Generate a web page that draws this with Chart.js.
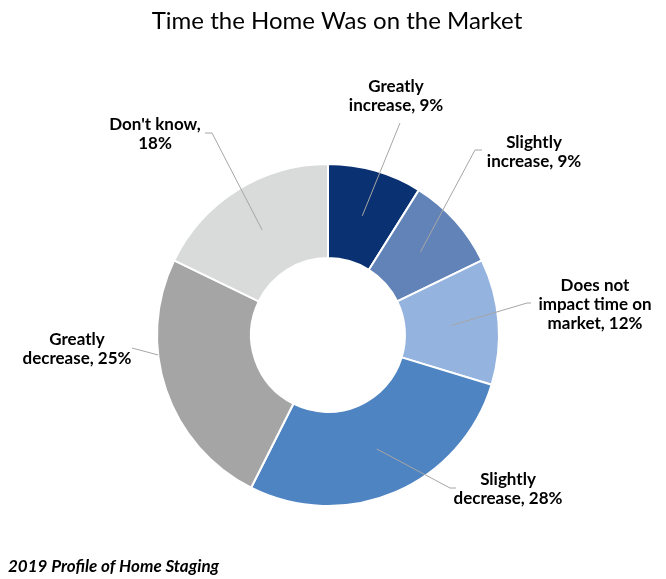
<!DOCTYPE html>
<html>
<head>
<meta charset="utf-8">
<script src="https://cdn.jsdelivr.net/npm/chart.js@4/dist/chart.umd.min.js"></script>
<style>
  html, body { margin: 0; padding: 0; background: #fff; }
  #wrap { width: 666px; height: 579px; position: relative; }
</style>
</head>
<body>
<div id="wrap"><canvas id="grafico" width="666" height="579"></canvas></div>
<script>
const categorias = ["Greatly increase", "Slightly increase", "Does not impact time on market", "Slightly decrease", "Greatly decrease", "Don't know"];
const valores = [9, 9, 12, 28, 25, 18];
const rotulos = [
  ["Greatly", "increase, 9%"],
  ["Slightly", "increase, 9%"],
  ["Does not", "impact time on", "market, 12%"],
  ["Slightly", "decrease, 28%"],
  ["Greatly", "decrease, 25%"],
  ["Don't know,", "18%"]
];
const cores = ["#0a3172", "#6283b8", "#95b3df", "#4f84c2", "#a5a5a5", "#d9dbdb"];

// posição dos rótulos relativa ao centro do gráfico (texto, fim da linha, cotovelo)
const layoutRotulos = [
  { tx: 68, ty: -239, ex: 72, ey: -212 },
  { tx: 206, ty: -183, ex: 147, ey: -185, hx: 154 },
  { tx: 267, ty: -30, ex: 199, ey: -32, hx: 203 },
  { tx: 180, ty: 154, ex: 122, ey: 153, hx: 128 },
  { tx: -251, ty: 14, ex: -196, ey: 13, raio: 1, desvio: 12 },
  { tx: -173, ty: -201, ex: -116, ey: -202, hx: -123 }
];

const fonteRotulo = "bold 17px Lato, 'Open Sans', sans-serif";

// Desenha título, rótulos com linhas de chamada e rodapé
const pluginRotulos = {
  id: "rotulos",
  afterDraw(chart) {
    const ctx = chart.ctx;
    const meta = chart.getDatasetMeta(0);
    ctx.save();

    ctx.fillStyle = "#000";
    ctx.textAlign = "center";
    ctx.textBaseline = "middle";
    ctx.font = "24px Lato, 'Open Sans', sans-serif";
    ctx.fillText("Time the Home Was on the Market", 337, 21);

    meta.data.forEach((arco, i) => {
      const p = arco.getProps(["x", "y", "startAngle", "endAngle", "innerRadius", "outerRadius"], true);
      const lay = layoutRotulos[i];
      let ang = (p.startAngle + p.endAngle) / 2 + (lay.desvio || 0) * Math.PI / 180;
      let r = lay.raio ? p.outerRadius : (p.innerRadius + p.outerRadius) / 2;
      const sx = p.x + Math.cos(ang) * r;
      const sy = p.y + Math.sin(ang) * r;

      ctx.strokeStyle = "#a6a6a6";
      ctx.lineWidth = 1;
      ctx.beginPath();
      ctx.moveTo(sx, sy);
      ctx.lineTo(p.x + lay.ex, p.y + lay.ey);
      if (lay.hx !== undefined) ctx.lineTo(p.x + lay.hx, p.y + lay.ey);
      ctx.stroke();

      const linhas = rotulos[i];
      const alt = 19;
      ctx.font = fonteRotulo;
      ctx.fillStyle = "#000";
      linhas.forEach((txt, k) => {
        const y = p.y + lay.ty + (k - (linhas.length - 1) / 2) * alt;
        ctx.fillText(txt, p.x + lay.tx, y);
      });
    });

    ctx.textAlign = "left";
    ctx.font = "italic bold 17px Lato, 'Open Sans', sans-serif";
    ctx.fillText("2019 Profile of Home Staging", 8, 567);
    ctx.restore();
  }
};

const ctx = document.getElementById("grafico").getContext("2d");
new Chart(ctx, {
  type: "doughnut",
  data: {
    labels: categorias,
    datasets: [{
      data: valores,
      backgroundColor: cores,
      borderColor: "#ffffff",
      borderWidth: 2
    }]
  },
  options: {
    responsive: false,
    animation: false,
    cutout: "45%",
    layout: { padding: { top: 163, bottom: 72, left: 156, right: 166 } },
    plugins: {
      legend: { display: false },
      tooltip: { enabled: false }
    }
  },
  plugins: [pluginRotulos]
});
</script>
</body>
</html>
